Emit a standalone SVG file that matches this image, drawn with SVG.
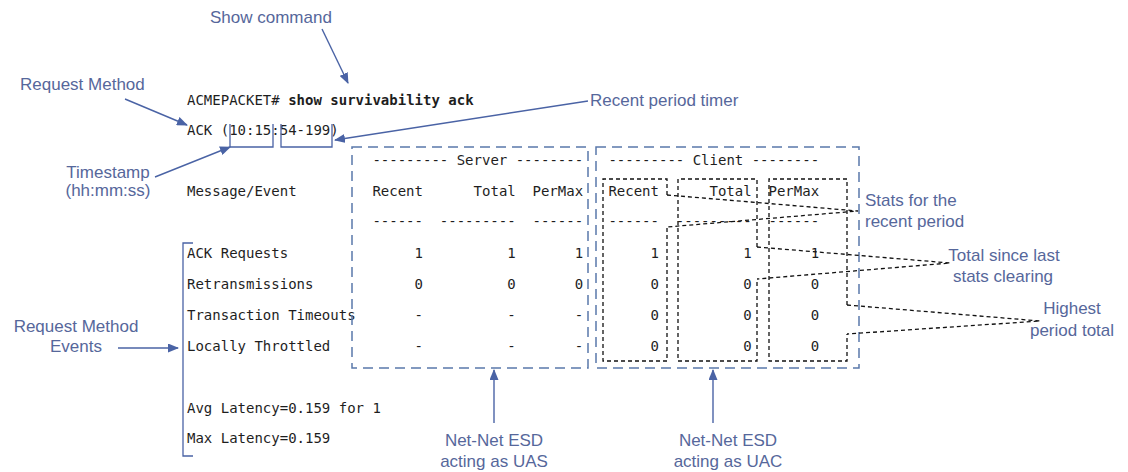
<svg xmlns="http://www.w3.org/2000/svg" width="1128" height="472" viewBox="0 0 1128 472">
<defs>
<style>
.mono{font-family:"DejaVu Sans Mono","Liberation Mono",monospace;font-size:14px;fill:#1e1e1e}
.b{font-weight:bold}
.lbl{font-family:"Liberation Sans",Arial,sans-serif;font-size:17px;fill:#56679b}
.arr{stroke:#4a63a5;stroke-width:1.4;fill:none}
.bluebox{stroke:#5a78aa;stroke-width:1.5;fill:none;stroke-dasharray:10 6}
.blk{stroke:#111;stroke-width:1.3;fill:none;stroke-dasharray:4 3}
.thin{stroke:#4a63a5;stroke-width:1.3;fill:none}
.end{text-anchor:end}
.mid{text-anchor:middle}
</style>
<marker id="ah" markerWidth="11" markerHeight="9" refX="10" refY="4.5" orient="auto" markerUnits="userSpaceOnUse">
<path d="M0,0 L11,4.5 L0,9 Z" fill="#4a63a5"/>
</marker>
</defs>
<rect width="1128" height="472" fill="#fff"/>

<g id="cli-output">
<text class="mono" x="187" y="105">ACMEPACKET# <tspan class="b">show survivability ack</tspan></text>
<text class="mono" x="187" y="135">ACK (10:15:54-199)</text>
<text class="mono" x="187" y="196">Message/Event</text>
<text class="mono" x="187" y="258">ACK Requests</text>
<text class="mono" x="187" y="289">Retransmissions</text>
<text class="mono" x="187" y="320">Transaction Timeouts</text>
<text class="mono" x="187" y="351">Locally Throttled</text>
<text class="mono" x="187" y="413">Avg Latency=0.159 for 1</text>
<text class="mono" x="187" y="443">Max Latency=0.159</text>
</g>

<g id="server-box">
<rect class="bluebox" x="352" y="147" width="236" height="221"/>
<text class="mono" x="372.4" y="165">--------- Server --------</text>
<text class="mono" x="372.4" y="196">Recent</text>
<text class="mono" x="473.6" y="196">Total</text>
<text class="mono" x="532.5" y="196">PerMax</text>
<text class="mono" x="372.4" y="226">------</text>
<text class="mono" x="439.8" y="226">---------</text>
<text class="mono" x="532.5" y="226">------</text>
<text class="mono end" x="423" y="258">1</text><text class="mono end" x="515.7" y="258">1</text><text class="mono end" x="583.1" y="258">1</text>
<text class="mono end" x="423" y="289">0</text><text class="mono end" x="515.7" y="289">0</text><text class="mono end" x="583.1" y="289">0</text>
<text class="mono end" x="423" y="320">-</text><text class="mono end" x="515.7" y="320">-</text><text class="mono end" x="583.1" y="320">-</text>
<text class="mono end" x="423" y="351">-</text><text class="mono end" x="515.7" y="351">-</text><text class="mono end" x="583.1" y="351">-</text>
</g>

<g id="client-box">
<rect class="bluebox" x="596" y="147" width="263" height="221"/>
<text class="mono" x="608.4" y="165">--------- Client --------</text>
<text class="mono" x="608.4" y="196">Recent</text>
<text class="mono" x="709.5" y="196">Total</text>
<text class="mono" x="768.5" y="196">PerMax</text>
<text class="mono" x="608.4" y="226">------</text>
<text class="mono" x="675.8" y="226">---------</text>
<text class="mono" x="768.5" y="226">------</text>
<text class="mono end" x="659" y="258">1</text><text class="mono end" x="751.7" y="258">1</text><text class="mono end" x="819.1" y="258">1</text>
<text class="mono end" x="659" y="289">0</text><text class="mono end" x="751.7" y="289">0</text><text class="mono end" x="819.1" y="289">0</text>
<text class="mono end" x="659" y="320">0</text><text class="mono end" x="751.7" y="320">0</text><text class="mono end" x="819.1" y="320">0</text>
<text class="mono end" x="659" y="351">0</text><text class="mono end" x="751.7" y="351">0</text><text class="mono end" x="819.1" y="351">0</text>
</g>

<g id="recent-col">
<path class="blk" d="M667,195 V179 H603 V361 H667 V227"/>
</g>
<g id="total-col">
<path class="blk" d="M757,247 V179 H678 V361 H757 V279"/>
</g>
<g id="permax-col">
<path class="blk" d="M847,305 V179 H769 V361 H847 V334"/>
</g>

<g id="timestamp-marks">
<path class="thin" d="M230,124 V147 H273 V124"/>
<path class="thin" d="M281,124 V147 H332 V124"/>
</g>

<g id="events-bracket">
<path class="thin" d="M193,243 H183 V456 H193" stroke-width="1.5"/>
</g>

<g id="labels">
<text class="lbl" x="210" y="23">Show command</text>
<text class="lbl" x="20" y="90">Request Method</text>
<text class="lbl" x="590" y="106">Recent period timer</text>
<text class="lbl mid" x="108" y="178">Timestamp</text>
<text class="lbl mid" x="108" y="196">(hh:mm:ss)</text>
<text class="lbl mid" x="76" y="332">Request Method</text>
<text class="lbl mid" x="76" y="352">Events</text>
<text class="lbl" x="865" y="206">Stats for the</text>
<text class="lbl" x="865" y="227">recent period</text>
<text class="lbl mid" x="1004" y="261">Total since last</text>
<text class="lbl mid" x="1003" y="282">stats clearing</text>
<text class="lbl mid" x="1072" y="314">Highest</text>
<text class="lbl mid" x="1072" y="336">period total</text>
<text class="lbl mid" x="494" y="446">Net-Net ESD</text>
<text class="lbl mid" x="494" y="467">acting as UAS</text>
<text class="lbl mid" x="728" y="446">Net-Net ESD</text>
<text class="lbl mid" x="728" y="467">acting as UAC</text>
</g>

<g id="connectors">
<line class="arr" x1="322" y1="29" x2="348" y2="83" marker-end="url(#ah)"/>
<line class="arr" x1="125" y1="99" x2="187" y2="125" marker-end="url(#ah)"/>
<line class="arr" x1="155" y1="177" x2="230" y2="147" marker-end="url(#ah)"/>
<line class="arr" x1="588" y1="101" x2="335" y2="140" marker-end="url(#ah)"/>
<line class="arr" x1="118" y1="348" x2="178" y2="348" marker-end="url(#ah)"/>
<line class="arr" x1="494" y1="423" x2="494" y2="370" marker-end="url(#ah)"/>
<line class="arr" x1="713" y1="423" x2="713" y2="370" marker-end="url(#ah)"/>
<path class="blk" d="M667,195 L858,211 L667,227"/>
<path class="blk" d="M757,247 L950,263 L757,279"/>
<path class="blk" d="M847,305 L1040,321 L847,334"/>
</g>
</svg>
